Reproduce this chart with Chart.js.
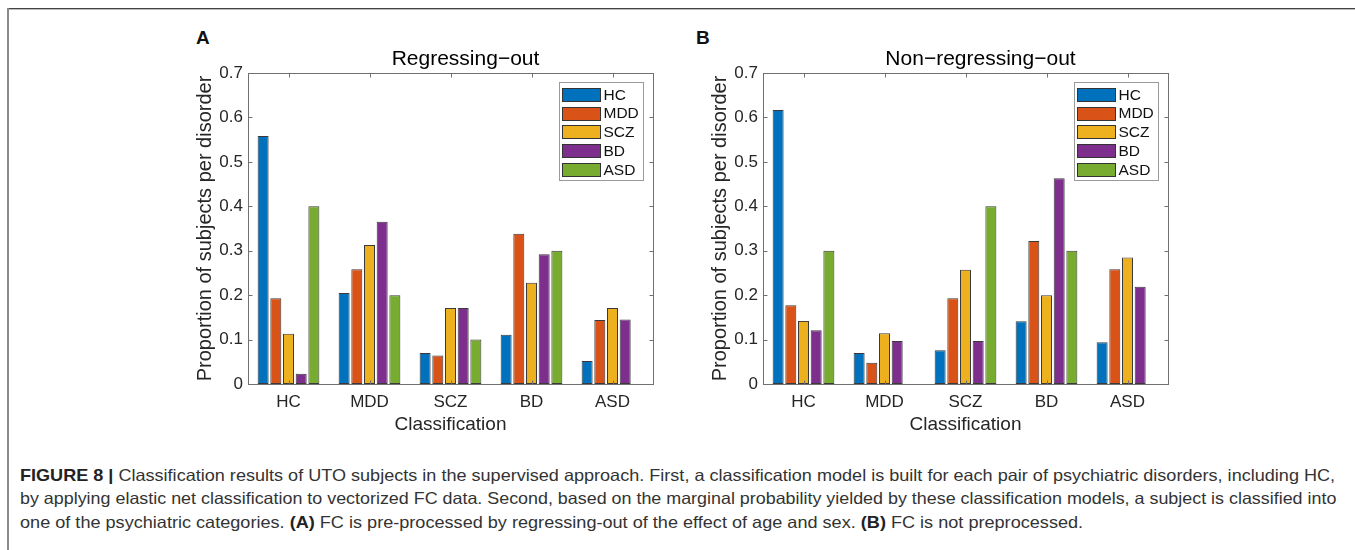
<!DOCTYPE html>
<html><head><meta charset="utf-8">
<script src="https://cdn.jsdelivr.net/npm/chart.js@4.4.1/dist/chart.umd.min.js"></script>
<style>
html,body{margin:0;padding:0;background:#fff;width:1355px;height:550px;overflow:hidden;position:relative;font-family:"Liberation Sans",Arial,sans-serif;}
#frameTop{position:absolute;left:7px;top:8px;width:1348px;height:1px;background:#444;border-bottom:1px solid #bbb;}
#frameLeft{position:absolute;left:7px;top:8px;width:2px;height:542px;background:#8a8a8a;}
.panel{position:absolute;top:30px;}
.letter{position:absolute;top:27px;font:bold 19px "Liberation Sans",Arial,sans-serif;color:#111;}
.cap{position:absolute;left:20px;white-space:nowrap;font:16.5px "Liberation Sans Narrow","Liberation Sans",sans-serif;color:#333;transform-origin:0 0;line-height:20px;}
.cap b{color:#222}
</style></head>
<body>
<div id="frameTop"></div><div id="frameLeft"></div>
<div class="letter" style="left:196px">A</div>
<div class="letter" style="left:696px">B</div>
<canvas id="chartA" class="panel" width="530" height="410" style="left:150px"></canvas>
<canvas id="chartB" class="panel" width="530" height="410" style="left:665px"></canvas>
<div class="cap" id="cap1" data-w="1315" style="top:465px"><b>FIGURE 8 |</b> Classification results of UTO subjects in the supervised approach. First, a classification model is built for each pair of psychiatric disorders, including HC,</div>
<div class="cap" id="cap2" data-w="1316" style="top:488px">by applying elastic net classification to vectorized FC data. Second, based on the marginal probability yielded by these classification models, a subject is classified into</div>
<div class="cap" id="cap3" data-w="1063" style="top:512px">one of the psychiatric categories. <b>(A)</b> FC is pre-processed by regressing-out of the effect of age and sex. <b>(B)</b> FC is not preprocessed.</div>
<script>
// ---- data ----
const categories = ['HC', 'MDD', 'SCZ', 'BD', 'ASD'];
const seriesNames = ['HC', 'MDD', 'SCZ', 'BD', 'ASD'];
const seriesColors = ['#0072BD', '#D95319', '#EDB120', '#7E2F8E', '#77AC30'];
const yTicks = [0, 0.1, 0.2, 0.3, 0.4, 0.5, 0.6, 0.7];
// Panel A: Regressing-out
const regHC  = [0.558, 0.205, 0.070, 0.111, 0.052];
const regMDD = [0.193, 0.258, 0.064, 0.338, 0.144];
const regSCZ = [0.113, 0.313, 0.171, 0.228, 0.171];
const regBD  = [0.023, 0.365, 0.171, 0.292, 0.145];
const regASD = [0.400, 0.200, 0.100, 0.300, 0.000];
// Panel B: Non-regressing-out
const nonHC  = [0.617, 0.070, 0.076, 0.141, 0.094];
const nonMDD = [0.177, 0.048, 0.193, 0.322, 0.258];
const nonSCZ = [0.142, 0.114, 0.257, 0.200, 0.285];
const nonBD  = [0.121, 0.097, 0.097, 0.463, 0.219];
const nonASD = [0.300, 0.000, 0.400, 0.300, 0.000];
const titleA = 'Regressing\u2212out';
const titleB = 'Non\u2212regressing\u2212out';
const xTitle = 'Classification';
const yTitle = 'Proportion of subjects per disorder';

const FONT = '"Liberation Sans", Arial, sans-serif';
const TXT = '#262626';

const framePlugin = {
  id: 'frame',
  afterDatasetsDraw(chart) {
    const {ctx, chartArea: a, scales: {x, y}} = chart;
    ctx.save();
    ctx.strokeStyle = '#707070';
    ctx.lineWidth = 1;
    const L = Math.round(a.left) + 0.5, R = Math.round(a.right) + 0.5;
    const T = Math.round(a.top) + 0.5, B = Math.round(a.bottom) + 0.5;
    ctx.strokeRect(L, T, R - L, B - T);
    const tl = 4;
    ctx.beginPath();
    yTicks.forEach(v => {
      const py = Math.round(y.getPixelForValue(v)) + 0.5;
      ctx.moveTo(L, py); ctx.lineTo(L + tl, py);
      ctx.moveTo(R, py); ctx.lineTo(R - tl, py);
    });
    categories.forEach((c, i) => {
      const px = Math.round(x.getPixelForValue(i)) + 0.5;
      ctx.moveTo(px, B); ctx.lineTo(px, B - tl);
      ctx.moveTo(px, T); ctx.lineTo(px, T + tl);
    });
    ctx.stroke();
    ctx.restore();
  },
  afterDraw(chart, args, opts) {
    const {ctx, chartArea: a} = chart;
    ctx.save();
    // title
    ctx.fillStyle = '#000';
    ctx.font = '21px ' + FONT;
    ctx.textAlign = 'center';
    ctx.textBaseline = 'middle';
    ctx.fillText(opts.title, (a.left + a.right) / 2 + 15, a.top - 14);
    // legend
    const w = 84, h = 98;
    const bx = Math.round(a.right - 10 - w) + 0.5, by = Math.round(a.top + 9) + 0.5;
    ctx.fillStyle = '#fff';
    ctx.fillRect(bx, by, w, h);
    ctx.strokeStyle = '#9a9a9a';
    ctx.lineWidth = 1;
    ctx.strokeRect(bx, by, w, h);
    ctx.font = '15.5px ' + FONT;
    ctx.textAlign = 'left';
    chart.data.datasets.forEach((ds, i) => {
      const cy = by + 12 + i * 18.7;
      const sy = Math.round(cy - 6.5) + 0.5;
      ctx.fillStyle = ds.backgroundColor;
      ctx.fillRect(bx + 3, sy, 38, 13);
      ctx.strokeStyle = '#333';
      ctx.strokeRect(bx + 3, sy, 38, 13);
      ctx.fillStyle = '#111';
      ctx.fillText(ds.label, bx + 44, cy + 1);
    });
    ctx.restore();
  }
};

function makeChart(id, series, title) {
  return new Chart(document.getElementById(id), {
    type: 'bar',
    data: {
      labels: categories,
      datasets: series.map((vals, i) => ({
        label: seriesNames[i],
        data: vals,
        backgroundColor: seriesColors[i],
        borderColor: '#3a3a3a',
        borderWidth: 1,
        borderSkipped: false,
        categoryPercentage: 0.783,
        barPercentage: 0.866
      }))
    },
    options: {
      responsive: false,
      animation: false,
      events: [],
      layout: {padding: {top: 43, right: 27, left: 0, bottom: 0}},
      plugins: {
        legend: {display: false},
        tooltip: {enabled: false},
        frame: {title: title}
      },
      scales: {
        x: {
          grid: {display: false, drawTicks: false},
          border: {display: false},
          ticks: {padding: 8, color: TXT, font: {size: 17, family: FONT}},
          title: {display: true, text: xTitle, color: TXT, font: {size: 19, family: FONT}, padding: {top: 0, bottom: 4}},
          afterFit(s) { s.height = 56; }
        },
        y: {
          min: 0, max: 0.7,
          grid: {display: false, drawTicks: false},
          border: {display: false},
          ticks: {stepSize: 0.1, padding: 5, color: TXT, font: {size: 17, family: FONT},
                  callback: (v) => String(Math.round(v * 10) / 10)},
          title: {display: true, text: yTitle, color: TXT, font: {size: 20, family: FONT}, padding: {top: 43, bottom: 0}},
          afterFit(s) { s.width = 98; }
        }
      }
    },
    plugins: [framePlugin]
  });
}

makeChart('chartA', [regHC, regMDD, regSCZ, regBD, regASD], titleA);
makeChart('chartB', [nonHC, nonMDD, nonSCZ, nonBD, nonASD], titleB);

// fit caption lines to their measured widths
document.querySelectorAll('.cap').forEach(el => {
  const target = parseFloat(el.dataset.w);
  const w = el.scrollWidth;
  el.style.transform = 'scaleX(' + (target / w) + ')';
});
</script>
</body></html>
